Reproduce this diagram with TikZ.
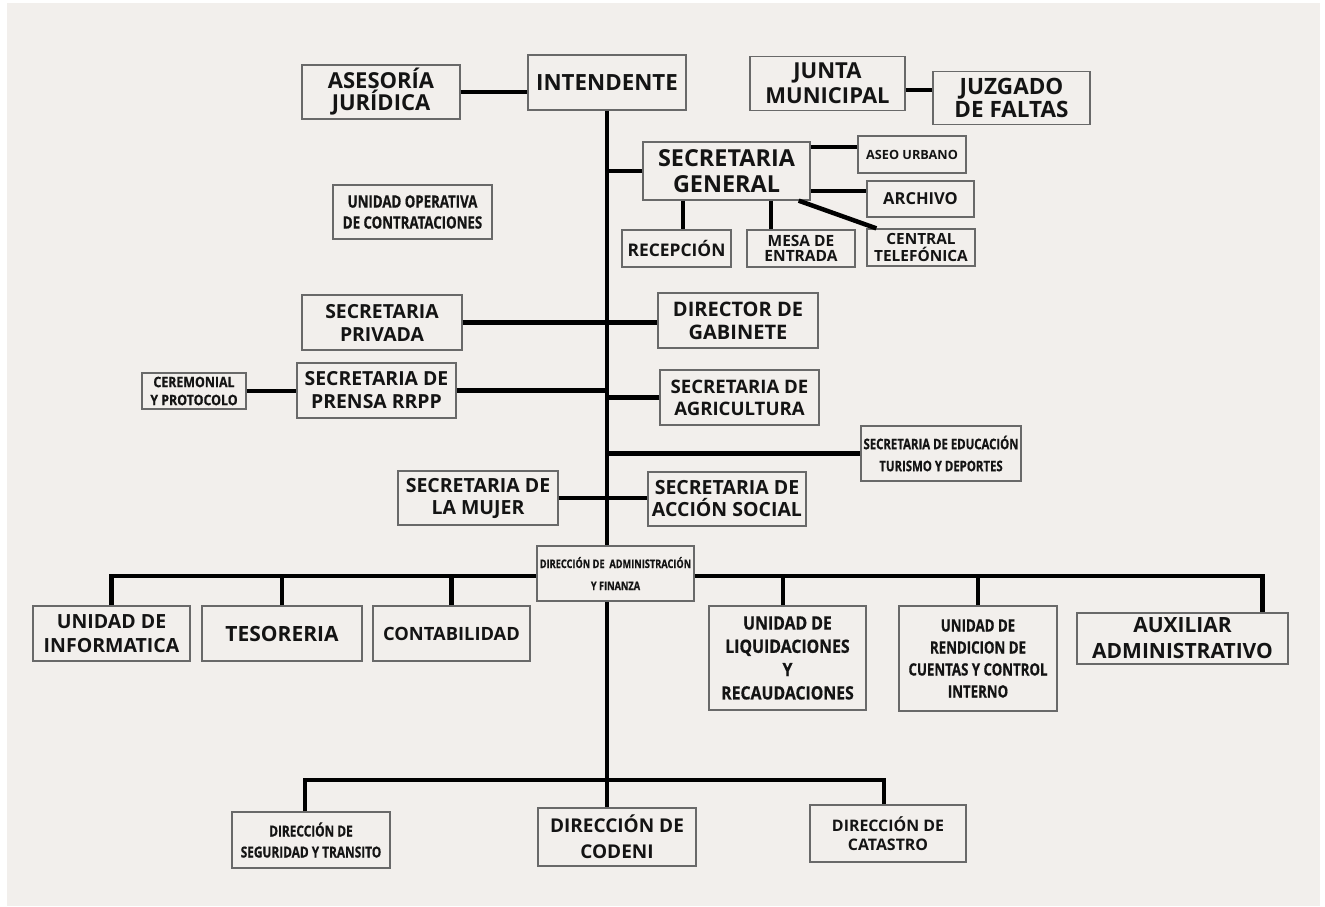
\documentclass[tikz,border=0pt]{standalone}
\usepackage{fontspec}
\setmainfont{Open Sans}
\newfontfamily\condfont[FakeStretch=0.78, FakeBold=0.6]{Open Sans}
\newfontfamily\semicondfont[FakeStretch=0.86, FakeBold=0.6]{Open Sans}

\definecolor{bgpaper}{RGB}{242,239,236}
\definecolor{boxline}{RGB}{105,105,105}
\definecolor{ink}{RGB}{20,20,20}
\newcommand{\boxfont}[2]{\bfseries\fontsize{#1}{#2}\selectfont}

\tikzset{
  unit/.style={draw=boxline, fill=bgpaper, line width=1.3pt, align=center,
    inner sep=0pt, text=ink},
  link/.style={draw=black, line width=4.5pt},
}

\begin{document}
\begin{tikzpicture}[x=1pt, y=-1pt]
  % Paper
  \fill[white] (0,0) rectangle (1325,906);
  \fill[bgpaper] (7,3) rectangle (1320,906);

  % Top row
  \node[unit, minimum width=158pt, minimum height=54pt, font=\boxfont{22}{22}]
    (ases) at (381,92) {ASESORÍA\\JURÍDICA};
  \node[unit, minimum width=158pt, minimum height=55pt, font=\boxfont{22.3}{24}]
    (int) at (607,82.5) {INTENDENTE};
  \node[unit, minimum width=155pt, minimum height=54pt, font=\boxfont{22}{25}]
    (junta) at (827.5,83.5) {JUNTA\\MUNICIPAL};
  \node[unit, minimum width=157pt, minimum height=53pt, font=\boxfont{22.5}{23}]
    (juzg) at (1011.5,98) {JUZGADO\\DE FALTAS};

  % Secretaria general and its units
  \node[unit, minimum width=167pt, minimum height=58pt, font=\boxfont{23.4}{26}]
    (sg) at (726.5,171) {SECRETARIA\\GENERAL};
  \node[unit, minimum width=108pt, minimum height=37pt, font=\boxfont{12.7}{14}]
    (aseo) at (912,154.5) {ASEO URBANO};
  \node[unit, minimum width=107pt, minimum height=36pt, font=\boxfont{16.5}{18}]
    (arch) at (920.5,199) {ARCHIVO};
  \node[unit, minimum width=109pt, minimum height=37pt, font=\boxfont{17.4}{18}]
    (recep) at (676.5,248.5) {RECEPCIÓN};
  \node[unit, minimum width=108pt, minimum height=37pt, font=\boxfont{15.5}{15.5}]
    (mesa) at (801,248.5) {MESA DE\\ENTRADA};
  \node[unit, minimum width=108pt, minimum height=37pt, font=\boxfont{15.4}{17}]
    (cent) at (921,247.5) {CENTRAL\\TELEFÓNICA};

  % Free unit
  \node[unit, minimum width=159pt, minimum height=54pt, font=\condfont\boxfont{17}{21}]
    (uoc) at (412.5,212) {UNIDAD OPERATIVA\\DE CONTRATACIONES};

  % Secretarias along the trunk
  \node[unit, minimum width=160pt, minimum height=55pt, font=\boxfont{19.4}{23}]
    (priv) at (382,322.5) {SECRETARIA\\PRIVADA};
  \node[unit, minimum width=160pt, minimum height=55pt, font=\boxfont{20}{23}]
    (gab) at (738,320.5) {DIRECTOR DE\\GABINETE};
  \node[unit, minimum width=104pt, minimum height=36pt, font=\semicondfont\boxfont{14.4}{18}]
    (cer) at (194,391) {CEREMONIAL\\Y PROTOCOLO};
  \node[unit, minimum width=159pt, minimum height=55pt, font=\boxfont{19.4}{23}]
    (pren) at (376.5,390.5) {SECRETARIA DE\\PRENSA RRPP};
  \node[unit, minimum width=159pt, minimum height=55pt, font=\boxfont{18.6}{22}]
    (agri) at (739.5,397.5) {SECRETARIA DE\\AGRICULTURA};
  \node[unit, minimum width=160pt, minimum height=55pt, font=\condfont\boxfont{14.6}{22}]
    (educ) at (941,453.5) {SECRETARIA DE EDUCACIÓN\\TURISMO Y DEPORTES};
  \node[unit, minimum width=160pt, minimum height=54pt, font=\boxfont{19.5}{22}]
    (mujer) at (478,498) {SECRETARIA DE\\LA MUJER};
  \node[unit, minimum width=158pt, minimum height=54pt, font=\boxfont{19.5}{22}]
    (acc) at (727,499) {SECRETARIA DE\\ACCIÓN SOCIAL};

  % Administracion y finanza
  \node[unit, minimum width=157pt, minimum height=55pt, font=\condfont\boxfont{11.8}{22}]
    (admin) at (615.5,573.5) {DIRECCIÓN DE~ ADMINISTRACIÓN\\Y FINANZA};
  \node[unit, minimum width=157pt, minimum height=55pt, font=\boxfont{19.5}{24}]
    (info) at (111.5,633.5) {UNIDAD DE\\INFORMATICA};
  \node[unit, minimum width=160pt, minimum height=55pt, font=\boxfont{21}{24}]
    (teso) at (282,633.5) {TESORERIA};
  \node[unit, minimum width=157pt, minimum height=55pt, font=\boxfont{18.3}{24}]
    (conta) at (451.5,633.5) {CONTABILIDAD};
  \node[unit, minimum width=157pt, minimum height=104pt, font=\semicondfont\boxfont{18.4}{23.3}]
    (liq) at (787.5,658) {UNIDAD DE\\LIQUIDACIONES\\Y\\RECAUDACIONES};
  \node[unit, minimum width=158pt, minimum height=105pt, font=\condfont\boxfont{17}{22}]
    (rend) at (978,658.5) {UNIDAD DE\\RENDICION DE\\CUENTAS Y CONTROL\\INTERNO};
  \node[unit, minimum width=211pt, minimum height=51pt, font=\boxfont{21}{26}]
    (aux) at (1182.5,638.5) {AUXILIAR\\ADMINISTRATIVO};

  % Direcciones
  \node[unit, minimum width=158pt, minimum height=56pt, font=\condfont\boxfont{15.2}{21}]
    (segu) at (311,840) {DIRECCIÓN DE\\SEGURIDAD Y TRANSITO};
  \node[unit, minimum width=158pt, minimum height=58pt, font=\boxfont{19}{26}]
    (codeni) at (617,837) {DIRECCIÓN DE\\CODENI};
  \node[unit, minimum width=156pt, minimum height=57pt, font=\boxfont{15.9}{19}]
    (cata) at (888,833.5) {DIRECCIÓN DE\\CATASTRO};

  % Trunk
  \draw[link] (int.south) -- (int.south |- admin.north);
  \draw[link] (int.south |- admin.south) -- (int.south |- codeni.north);

  % Top links
  \draw[link] (ases.east) -- (ases.east -| int.west);
  \draw[link] (junta.east |- 0,90) -- (juzg.west |- 0,90);

  % Secretaria general links
  \draw[link] (sg.west) -- (sg.west -| int.south);
  \draw[link] (sg.east |- 0,147) -- (aseo.west |- 0,147);
  \draw[link] (sg.east |- 0,191) -- (arch.west |- 0,191);
  \draw[link] (sg.south -| 683,0) -- (recep.north -| 683,0);
  \draw[link] (sg.south -| 771,0) -- (mesa.north -| 771,0);
  \draw[link] ([xshift=-12pt]sg.south east) -- ([xshift=10pt]cent.north west);

  % Side links
  \draw[link] (priv.east) -- (priv.east -| gab.west);
  \draw[link] (pren.east) -- (pren.east -| int.south);
  \draw[link] (cer.east) -- (cer.east -| pren.west);
  \draw[link] (agri.west) -- (agri.west -| int.south);
  \draw[link] (educ.west) -- (educ.west -| int.south);
  \draw[link] (mujer.east) -- (mujer.east -| acc.west);

  % Finanza bar
  \coordinate (finl) at (admin.west |- 0,576);
  \coordinate (finr) at (admin.east |- 0,576);
  \draw[link] (info.north) |- (finl);
  \draw[link] (teso.north) -- (teso.north |- finl);
  \draw[link] (conta.north) -- (conta.north |- finl);
  \draw[link] (finr) -| ([xshift=-26pt]aux.north east);
  \draw[link] (liq.north -| 783,0) -- (finr -| 783,0);
  \draw[link] (rend.north) -- (rend.north |- finr);

  % Direcciones bar
  \coordinate (split) at (int.south |- 0,780);
  \draw[link] (segu.north -| 305,0) |- (split) -| (cata.north -| 884,0);
\end{tikzpicture}
\end{document}
